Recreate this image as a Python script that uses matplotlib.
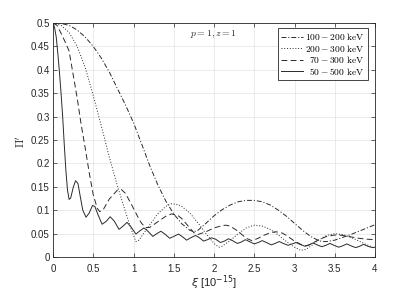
import matplotlib
matplotlib.use("Agg")
import matplotlib.pyplot as plt

plt.rcParams['lines.scale_dashes'] = False
plt.rcParams['font.family'] = ['Liberation Sans', 'DejaVu Sans']

# ---- data ----
x_100_200 = [0, 0.1, 0.2, 0.3, 0.4, 0.5, 0.6, 0.7, 0.8, 0.9, 1.0, 1.1, 1.2, 1.3, 1.4,
             1.5, 1.6, 1.7, 1.75, 1.8, 1.9, 2.0, 2.1, 2.2, 2.3, 2.4, 2.5, 2.6, 2.7, 2.8,
             2.9, 3.0, 3.1, 3.2, 3.3, 3.35, 3.4, 3.5, 3.6, 3.7, 3.8, 3.9, 4.0]
y_100_200 = [0.5, 0.499, 0.495, 0.485, 0.47, 0.45, 0.425, 0.395, 0.36, 0.325, 0.287,
             0.242, 0.196, 0.155, 0.12, 0.092, 0.071, 0.057, 0.054, 0.057, 0.072, 0.088,
             0.101, 0.111, 0.118, 0.121, 0.121, 0.118, 0.111, 0.100, 0.087, 0.072, 0.057,
             0.044, 0.035, 0.033, 0.033, 0.036, 0.042, 0.048, 0.055, 0.062, 0.069]

x_200_300 = [0, 0.1, 0.2, 0.3, 0.4, 0.5, 0.6, 0.7, 0.8, 0.9, 0.95, 1.0, 1.03, 1.07, 1.1,
             1.2, 1.3, 1.4, 1.47, 1.55, 1.6, 1.7, 1.8, 1.9, 2.0, 2.06, 2.1, 2.2, 2.3, 2.4,
             2.5, 2.6, 2.7, 2.8, 2.9, 3.0, 3.08, 3.15, 3.2, 3.3, 3.4, 3.5, 3.6, 3.7, 3.8,
             3.9, 4.0]
y_200_300 = [0.5, 0.495, 0.48, 0.45, 0.405, 0.345, 0.28, 0.213, 0.152, 0.097, 0.07, 0.046,
             0.033, 0.036, 0.044, 0.068, 0.092, 0.108, 0.114, 0.112, 0.108, 0.094, 0.073,
             0.05, 0.029, 0.021, 0.023, 0.035, 0.05, 0.062, 0.068, 0.066, 0.059, 0.047,
             0.033, 0.021, 0.014, 0.017, 0.023, 0.036, 0.046, 0.05, 0.048, 0.042, 0.034,
             0.026, 0.019]

x_70_300 = [0, 0.05, 0.1, 0.15, 0.2, 0.25, 0.3, 0.35, 0.4, 0.45, 0.5, 0.55, 0.58, 0.62,
            0.7, 0.8, 0.85, 0.9, 1.0, 1.05, 1.1, 1.15, 1.2, 1.3, 1.4, 1.47, 1.55, 1.6, 1.7,
            1.75, 1.8, 1.9, 2.0, 2.1, 2.15, 2.2, 2.3, 2.4, 2.47, 2.55, 2.6, 2.7, 2.77, 2.85,
            2.9, 3.0, 3.1, 3.15, 3.2, 3.3, 3.4, 3.5, 3.55, 3.6, 3.7, 3.8, 3.9, 4.0]
y_70_300 = [0.5, 0.495, 0.478, 0.46, 0.44, 0.39, 0.34, 0.283, 0.233, 0.18, 0.133, 0.104,
            0.097, 0.100, 0.124, 0.143, 0.144, 0.136, 0.104, 0.087, 0.072, 0.063, 0.063,
            0.075, 0.087, 0.092, 0.089, 0.082, 0.062, 0.052, 0.048, 0.054, 0.062, 0.067,
            0.068, 0.066, 0.055, 0.040, 0.035, 0.040, 0.045, 0.052, 0.054, 0.051, 0.046,
            0.034, 0.025, 0.024, 0.027, 0.037, 0.044, 0.047, 0.047, 0.046, 0.043, 0.040,
            0.038, 0.037]

x_50_500 = [0, 0.02, 0.04, 0.06, 0.08, 0.1, 0.12, 0.14, 0.16, 0.18, 0.2, 0.22, 0.25, 0.28,
            0.31, 0.34, 0.37, 0.41, 0.45, 0.49, 0.52, 0.56, 0.61, 0.66, 0.71, 0.76, 0.82,
            0.87, 0.92, 0.97, 1.03, 1.08, 1.13, 1.18, 1.24, 1.29, 1.34, 1.39, 1.45, 1.5,
            1.56, 1.61, 1.66, 1.71, 1.77, 1.82, 1.87, 1.92, 1.97, 2.02, 2.08, 2.13, 2.18,
            2.23, 2.29, 2.34, 2.39, 2.44, 2.5, 2.55, 2.6, 2.65, 2.71, 2.76, 2.81, 2.86,
            2.92, 2.97, 3.02, 3.07, 3.13, 3.18, 3.23, 3.28, 3.34, 3.39, 3.44, 3.49, 3.55,
            3.6, 3.65, 3.7, 3.76, 3.81, 3.86, 3.91, 3.97, 4.0]
y_50_500 = [0.5, 0.49, 0.47, 0.435, 0.395, 0.35, 0.3, 0.24, 0.185, 0.143, 0.123, 0.126,
            0.148, 0.163, 0.157, 0.128, 0.100, 0.085, 0.094, 0.11, 0.108, 0.09, 0.07, 0.076,
            0.086, 0.077, 0.059, 0.066, 0.074, 0.064, 0.049, 0.056, 0.062, 0.055, 0.044,
            0.05, 0.055, 0.049, 0.04, 0.044, 0.049, 0.043, 0.036, 0.041, 0.046, 0.041,
            0.034, 0.037, 0.041, 0.038, 0.031, 0.034, 0.039, 0.035, 0.029, 0.032, 0.037,
            0.033, 0.028, 0.031, 0.035, 0.031, 0.026, 0.029, 0.033, 0.029, 0.025, 0.028,
            0.031, 0.027, 0.023, 0.026, 0.030, 0.026, 0.022, 0.025, 0.029, 0.025, 0.021,
            0.024, 0.028, 0.024, 0.020, 0.023, 0.027, 0.023, 0.020, 0.021]

labels = [r'$100-200\ \mathrm{keV}$', r'$200-300\ \mathrm{keV}$',
          r'$\enspace70-300\ \mathrm{keV}$', r'$\enspace50-500\ \mathrm{keV}$']

xticks = [0, 0.5, 1, 1.5, 2, 2.5, 3, 3.5, 4]
xticklabels = ['0', '0.5', '1', '1.5', '2', '2.5', '3', '3.5', '4']
yticks = [0, 0.05, 0.1, 0.15, 0.2, 0.25, 0.3, 0.35, 0.4, 0.45, 0.5]
yticklabels = ['0', '0.05', '0.1', '0.15', '0.2', '0.25', '0.3', '0.35', '0.4', '0.45', '0.5']

# ---- figure ----
fig = plt.figure(figsize=(4.15, 2.91), dpi=100)
ax = fig.add_axes([53/415, 1 - 257/291, 322/415, 234/291])

lc = '#2a2a2a'
lw = 0.7
ax.plot(x_100_200, y_100_200, color=lc, lw=lw, dashes=(3.5, 1.4, 0.8, 1.4), label=labels[0])
ax.plot(x_200_300, y_200_300, color=lc, lw=lw, dashes=(0.7, 1.3), label=labels[1])
ax.plot(x_70_300, y_70_300, color=lc, lw=lw, dashes=(4.2, 2.4), label=labels[2])
ax.plot(x_50_500, y_50_500, color=lc, lw=lw, linestyle='-', label=labels[3])

ax.set_xlim(0, 4)
ax.set_ylim(0, 0.5)
ax.set_xticks(xticks)
ax.set_xticklabels(xticklabels)
ax.set_yticks(yticks)
ax.set_yticklabels(yticklabels)
ax.tick_params(direction='in', length=3, width=0.5, top=True, right=True,
               labelsize=7, colors='#262626')
ax.tick_params(axis='x', pad=5)
ax.tick_params(axis='y', pad=2.5)
ax.grid(True, color='#e3e3e3', lw=0.5)
ax.set_axisbelow(True)
for s in ax.spines.values():
    s.set_linewidth(0.6)
    s.set_color('#262626')

leg = ax.legend(loc='upper right', bbox_to_anchor=(0.978, 0.979), borderaxespad=0,
                fancybox=False, framealpha=1, edgecolor='#262626',
                prop={'size': 6.8, 'math_fontfamily': 'cm'},
                handlelength=2.3, handletextpad=0.2, labelspacing=0.05, borderpad=0.35)
leg.get_frame().set_linewidth(0.6)

ax.text(0.5, 0.955, r'$p=1, z=1$', transform=ax.transAxes, ha='center', va='center',
        fontsize=7, math_fontfamily='cm', color='#262626')

fig.text(21.5/415, 1 - 142/291, r"$\Pi'$", rotation=90, ha='center', va='center',
         fontsize=8, math_fontfamily='cm', color='#262626')
fig.text(214/415, 1 - 283/291, r'$\xi$ [10$^{-15}$]', ha='center', va='center',
         fontsize=8, math_fontfamily='dejavusans', color='#262626')

fig.savefig('out.png', dpi=100)
